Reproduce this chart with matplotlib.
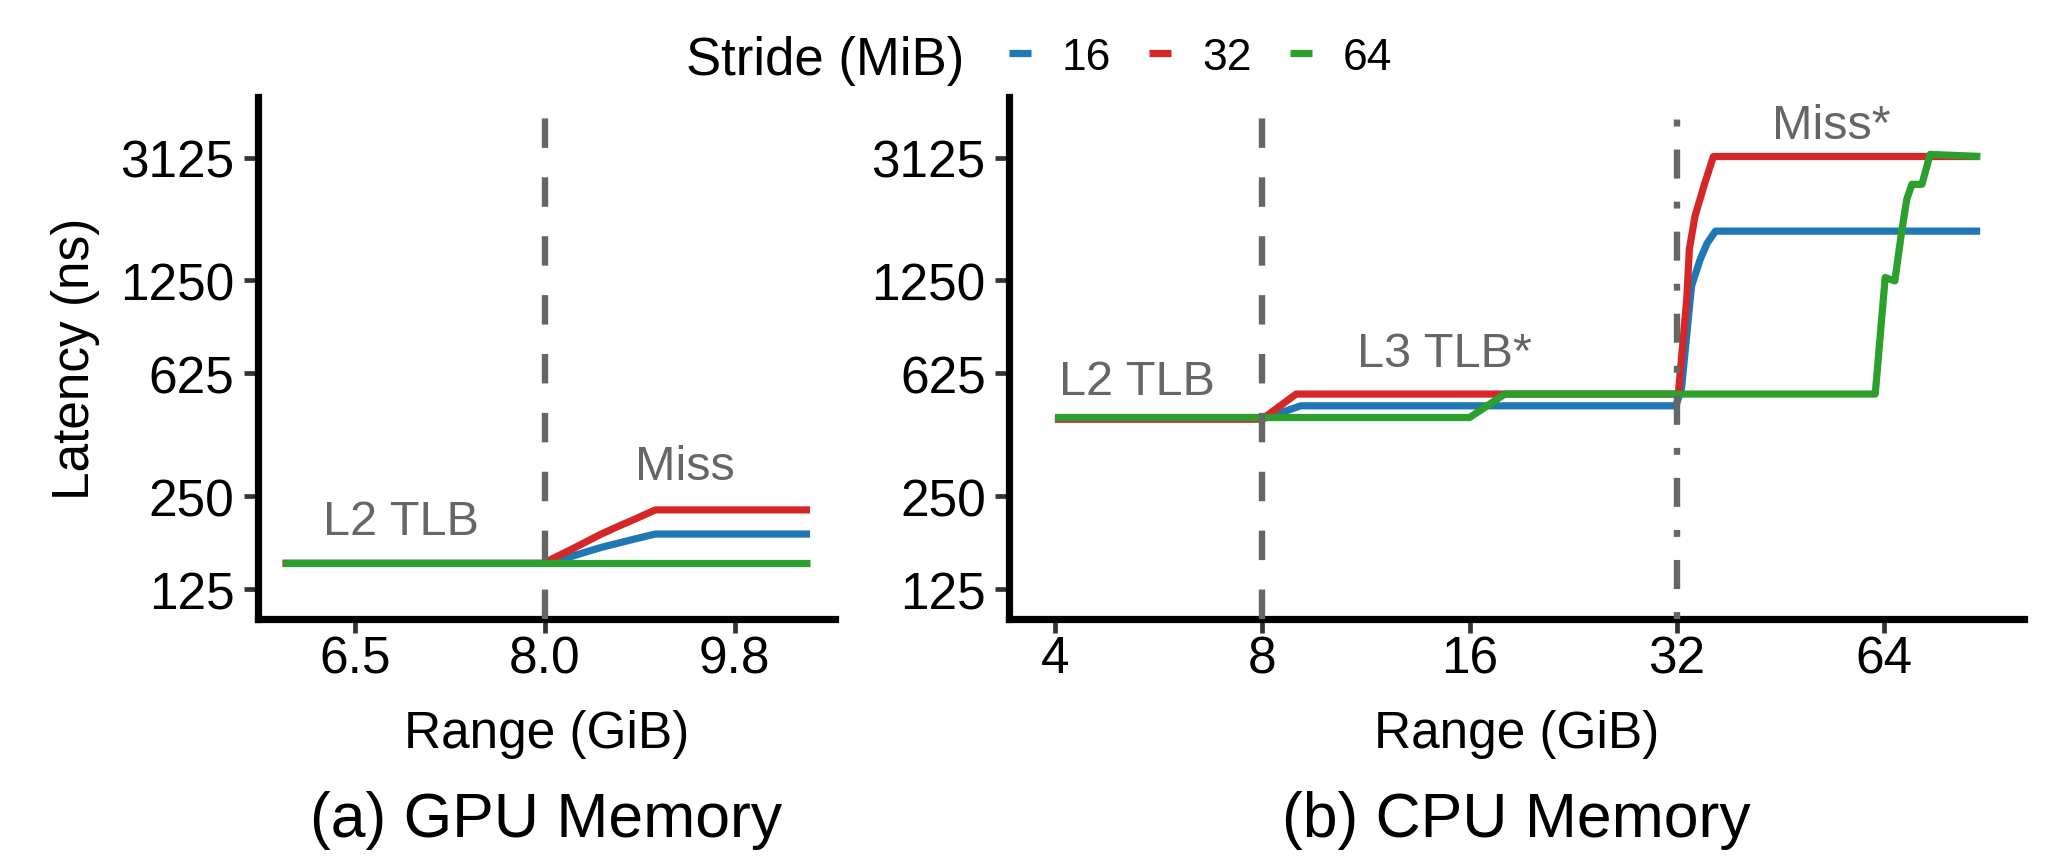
import numpy as np
import matplotlib
matplotlib.use('Agg')
import matplotlib.pyplot as plt
from matplotlib.ticker import NullLocator

plt.rcParams['font.family'] = ['Liberation Sans', 'DejaVu Sans']
plt.rcParams['lines.scale_dashes'] = False

strides = ['16', '32', '64']
colors = ['#1f77b4', '#d62728', '#2ca02c']

# (a) GPU memory: range (GiB) -> latency (ns)
gpu_range_16 = [6.0, 8.0, 8.06, 8.21, 8.51, 8.83, 9.03, 10.7]
gpu_lat_16 = [151.7, 151.7, 153, 158.7, 170.9, 182, 188.8, 188.8]
gpu_range_32 = [6.0, 8.0, 8.06, 8.21, 8.36, 8.51, 8.67, 8.83, 9.03, 10.7]
gpu_lat_32 = [151.7, 151.7, 156.7, 166.6, 177.4, 188.8, 199.9, 211, 226, 226]
gpu_range_64 = [6.0, 10.7]
gpu_lat_64 = [151.7, 151.7]

# (b) CPU memory
cpu_range_16 = [4.0, 8.0, 9.1, 31.9, 32.5, 33.6, 34.6, 35.4, 36.4, 88.2]
cpu_lat_16 = [445, 445, 491, 491, 560, 1200, 1465, 1650, 1806, 1806]
cpu_range_32 = [4.0, 8.0, 8.96, 32.0, 32.15, 32.6, 33.07, 33.36, 34.0, 35.15, 36.15, 88.2]
cpu_lat_32 = [445, 445, 536, 536, 536, 760, 1088, 1580, 2023, 2596, 3150, 3150]
cpu_range_64 = [4.0, 16.0, 18.0, 62.1, 64.2, 66.3, 67.8, 69.0, 70.2, 72.6, 74.6, 88.2]
cpu_lat_64 = [450, 450, 536, 536, 1278, 1246, 1786, 2291, 2560, 2560, 3200, 3150]

y_ticks = [125, 250, 625, 1250, 3125]
gpu_ticks = [2 ** 2.7, 8.0, 2 ** 3.3]
gpu_tick_labels = ['6.5', '8.0', '9.8']
cpu_ticks = [4, 8, 16, 32, 64]

gpu_data = [(gpu_range_16, gpu_lat_16), (gpu_range_32, gpu_lat_32), (gpu_range_64, gpu_lat_64)]
cpu_data = [(cpu_range_16, cpu_lat_16), (cpu_range_32, cpu_lat_32), (cpu_range_64, cpu_lat_64)]

W, H = 2061, 862
fig = plt.figure(figsize=(W / 100, H / 100), dpi=100)
ax_gpu = fig.add_axes([258 / W, (H - 620) / H, (835 - 258) / W, (620 - 98.3) / H])
ax_cpu = fig.add_axes([1009.3 / W, (H - 620) / H, (2024 - 1009.3) / W, (620 - 98.3) / H])

vline_color = '#666666'
note_color = '#666666'

handles = []
for ax, data in [(ax_gpu, gpu_data), (ax_cpu, cpu_data)]:
    handles = []
    for (x, y), c, s in zip(data, colors, strides):
        ln, = ax.plot(x, y, color=c, lw=5.2, solid_capstyle='butt',
                      solid_joinstyle='round', label=s, zorder=2)
        handles.append(ln)
    ax.set_xscale('log', base=2)
    ax.set_yscale('log')
    ax.set_ylim(100.2, 4898)
    ax.set_yticks(y_ticks)
    ax.set_yticklabels([str(v) for v in y_ticks])
    ax.xaxis.set_minor_locator(NullLocator())
    ax.yaxis.set_minor_locator(NullLocator())
    for side in ['top', 'right']:
        ax.spines[side].set_visible(False)
    for side in ['left', 'bottom']:
        ax.spines[side].set_linewidth(5.2)
        ax.spines[side].set_color('black')
    ax.tick_params(axis='both', which='major', length=10, width=3.4,
                   color='#333333', labelsize=37, labelcolor='black')
    ax.tick_params(axis='x', pad=1)
    ax.tick_params(axis='y', pad=7)
    ax.set_xlabel('Range (GiB)', fontsize=37, va='baseline')
    ax.xaxis.set_label_coords(0.5, -(748 - 620) / 521.7)

# GPU panel
ax_gpu.set_xlim(2 ** 2.546, 2 ** 3.459)
ax_gpu.set_xticks(gpu_ticks)
ax_gpu.set_xticklabels(gpu_tick_labels)
ax_gpu.axvline(8.0, color=vline_color, lw=4.6, dashes=(21.2, 21.2), zorder=3)
ax_gpu.text(6.835, 188.8, 'L2 TLB', color=note_color, fontsize=35, ha='center', va='baseline')
ax_gpu.text(9.33, 284.4, 'Miss', color=note_color, fontsize=35, ha='center', va='baseline')
ax_gpu.set_ylabel('Latency (ns)', fontsize=37, va='center')
ax_gpu.yaxis.set_label_coords((75.5 - 258) / 577, 0.5)
ax_gpu.text(0.5, -(836.7 - 620) / 521.7, '(a) GPU Memory', fontsize=45,
            ha='center', va='baseline', transform=ax_gpu.transAxes)

# CPU panel
ax_cpu.set_xlim(2 ** 1.780, 2 ** 6.674)
ax_cpu.set_xticks(cpu_ticks)
ax_cpu.set_xticklabels([str(v) for v in cpu_ticks])
ax_cpu.axvline(8.0, color=vline_color, lw=4.6, dashes=(21.2, 21.2), zorder=3)
ax_cpu.axvline(32.0, color=vline_color, lw=4.6, dashes=(5.0, 16.6, 20.9, 16.6), zorder=3)
ax_cpu.text(5.26, 535.6, 'L2 TLB', color=note_color, fontsize=35, ha='center', va='baseline')
ax_cpu.text(14.72, 660, 'L3 TLB*', color=note_color, fontsize=35, ha='center', va='baseline')
ax_cpu.text(53.7, 3627, 'Miss*', color=note_color, fontsize=35, ha='center', va='baseline')
ax_cpu.text(0.5, -(836.7 - 620) / 521.7, '(b) CPU Memory', fontsize=45,
            ha='center', va='baseline', transform=ax_cpu.transAxes)

# legend on top
fig.text(686 / W, 1 - 75 / H, 'Stride (MiB)', fontsize=38, ha='left', va='baseline')
fig.legend(handles, strides, loc='center left', bbox_to_anchor=(1008.7 / W, 1 - 58 / H),
           ncol=3, frameon=False, fontsize=32, handlelength=0.5, handletextpad=0.7,
           columnspacing=0.85, borderpad=0, borderaxespad=0)

fig.savefig('out.png', dpi=100)
